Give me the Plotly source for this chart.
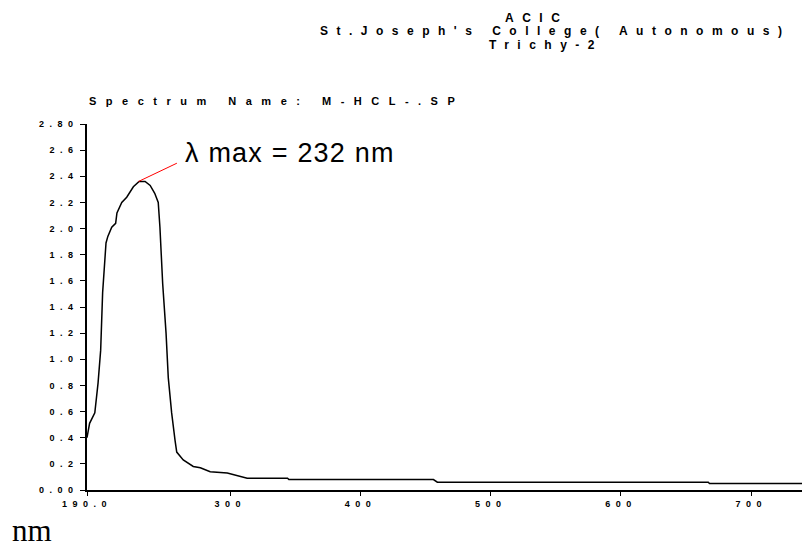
import plotly.graph_objects as go

# Spectrum data (wavelength nm, absorbance)
wavelength = [190, 192, 196, 198.5, 200.5, 202, 204.6, 206, 209, 212, 213, 216.7, 220.5,
              225.6, 230, 234.6, 238.5, 242, 244.7, 246, 248.1, 250.7, 252.4, 255, 257.6,
              258.9, 263.9, 271.6, 277, 284.6, 297.7, 313, 344, 345, 456, 459, 667, 668, 740]
absorbance = [0.40, 0.51, 0.59, 0.82, 1.07, 1.51, 1.89, 1.94, 2.01, 2.04, 2.12, 2.20, 2.24,
              2.32, 2.36, 2.36, 2.33, 2.27, 2.20, 2.01, 1.58, 1.20, 0.86, 0.59, 0.38,
              0.29, 0.23, 0.18, 0.17, 0.14, 0.13, 0.09, 0.09, 0.08, 0.08, 0.06, 0.06, 0.05, 0.05]

x_tick_vals = [190, 300, 400, 500, 600, 700]
x_tick_text = ["190.0", "300", "400", "500", "600", "700"]
y_tick_vals = [0.0, 0.2, 0.4, 0.6, 0.8, 1.0, 1.2, 1.4, 1.6, 1.8, 2.0, 2.2, 2.4, 2.6, 2.8]
y_tick_text = ["0.00", "0.2", "0.4", "0.6", "0.8", "1.0", "1.2", "1.4", "1.6", "1.8",
               "2.0", "2.2", "2.4", "2.6", "2.80"]

header_lines = ["ACIC", "St.Joseph's College( Autonomous)", "Trichy-2"]
spectrum_name = "Spectrum Name: M-HCL-.SP"
peak_label = "λ max = 232 nm"
x_unit = "nm"


def spaced(t, ls):
    return '<span style="letter-spacing:%spx">%s</span>' % (ls, t)


fig = go.Figure()
fig.add_trace(go.Scatter(x=wavelength, y=absorbance, mode="lines",
                         line=dict(color="black", width=1.5), hoverinfo="skip"))

tickfont = dict(family="Liberation Sans", size=9, color="black", weight="bold")

fig.update_layout(
    width=802, height=548,
    margin=dict(l=87, r=0, t=124, b=58),
    paper_bgcolor="white", plot_bgcolor="white",
    showlegend=False,
    xaxis=dict(range=[190, 739], showgrid=False, zeroline=False,
               showline=True, linecolor="black", linewidth=1.5,
               ticks="outside", ticklen=4, tickcolor="black", tickwidth=1,
               tickvals=x_tick_vals, ticktext=[spaced(t, 5.5) for t in x_tick_text],
               tickfont=tickfont),
    yaxis=dict(range=[0, 2.8], showgrid=False, zeroline=False,
               showline=True, linecolor="black", linewidth=1.5,
               ticks="outside", ticklen=5, tickcolor="black", tickwidth=1,
               tickvals=y_tick_vals, ticktext=[spaced(t, 5.5) for t in y_tick_text],
               tickfont=tickfont),
)

hdr_font = dict(family="Liberation Sans", size=12, color="black", weight="bold")
header_pos = [(0.628, 1.290), (0.654, 1.254), (0.642, 1.216)]
for text, (xp, yp) in zip(header_lines, header_pos):
    fig.add_annotation(text=spaced(text, 8.5), xref="paper", yref="paper", x=xp, y=yp,
                       xanchor="center", yanchor="middle", showarrow=False, font=hdr_font)

fig.add_annotation(text=spaced(spectrum_name, 9.5), xref="paper", yref="paper", x=0.0, y=1.063,
                   xanchor="left", yanchor="middle", showarrow=False,
                   font=dict(family="Liberation Sans", size=11, color="black", weight="bold"))

fig.add_shape(type="line", x0=229.5, y0=2.36, x1=259, y1=2.50,
              line=dict(color="red", width=1))
fig.add_annotation(text=spaced(peak_label, 1.2), x=264, y=2.58, xanchor="left", yanchor="middle",
                   showarrow=False, font=dict(family="Liberation Sans", size=27, color="black"))

fig.add_annotation(text=x_unit, xref="paper", yref="paper", x=-0.108, y=-0.165,
                   xanchor="left", yanchor="bottom", showarrow=False,
                   font=dict(family="Liberation Serif", size=31, color="black"))

fig.write_html("out.html")
